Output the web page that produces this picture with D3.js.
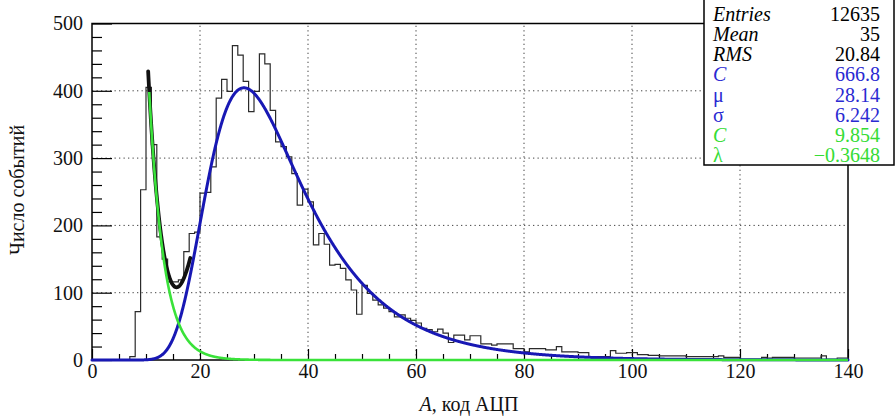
<!DOCTYPE html>
<html>
<head>
<meta charset="utf-8">
<script src="https://cdn.jsdelivr.net/npm/d3@7"></script>
<style>
  body { margin: 0; background: #fff; }
  svg { display: block; }
  text { font-family: "Liberation Serif", "Times New Roman", serif; }
</style>
</head>
<body>
<svg id="chart" width="896" height="416"></svg>
<script>
// Histogram contents: one entry per unit-wide bin, starting at A = 0
const counts = [
  0, 0, 0, 0, 0, 0, 0, 5, 72, 253,
  405, 320, 183, 150, 116, 116, 119, 161, 188, 190,
  248, 249, 287, 389, 417, 399, 467, 453, 414, 369,
  399, 455, 440, 371, 324, 317, 302, 277, 230, 254,
  235, 171, 188, 172, 141, 142, 136, 119, 104, 68,
  111, 99, 89, 82, 77, 72, 64, 67, 62, 59,
  55, 47, 45, 42, 46, 40, 26, 37, 37, 30,
  36, 36, 24, 24, 22, 24, 24, 24, 17, 17,
  12, 17, 17, 17, 15, 15, 20, 12, 12, 12,
  11, 11, 5, 5, 5, 5, 14, 10, 10, 11,
  11, 8, 8, 7, 7, 6, 6, 6, 6, 6,
  5, 5, 5, 5, 5, 5, 6, 4, 4, 4,
  1, 1, 1, 1, 4, 3, 4, 4, 4, 4,
  3, 3, 3, 3, 3, 6, 1, 1, 3, 3
];
const xRange = [0, 140];
const yRange = [0, 500];
const xMajorTicks = [0, 20, 40, 60, 80, 100, 120, 140];
const yMajorTicks = [0, 100, 200, 300, 400, 500];

// Fit results (Moyal-type peak + exponential pedestal)
const peakFit = { C: 666.8, mu: 28.14, sigma: 6.242 };
const expoFit = { C: 9.854, lambda: -0.3648 };
const expoRange = [10.6, 140];
const sumRange = [10.4, 18.2];

// Statistics box rows
const statNames  = ["Entries", "Mean", "RMS", "C", "μ", "σ", "C", "λ"];
const statValues = ["12635", "35", "20.84", "666.8", "28.14", "6.242", "9.854", "\u22120.3648"];
const statGroups = ["h", "h", "h", "p", "p", "p", "e", "e"];
const statItalic = [true, true, true, true, false, false, true, false];

const xTitle = "код АЦП";
const yTitle = "Число событий";

const svg = d3.select("#chart");
const L = 92, R = 848, T = 23.5, B = 360;

const x = d3.scaleLinear().domain(xRange).range([L, R]);
const y = d3.scaleLinear().domain(yRange).range([B, T]);

const colors = { h: "#000", p: "#2a2ad2", e: "#35dc35" };

// dotted grid at major ticks
const grid = svg.append("g").attr("stroke", "#444").attr("stroke-width", 1)
  .attr("stroke-dasharray", "1.3,3.2");
grid.selectAll("line.gx")
  .data(xMajorTicks.filter(v => v > xRange[0] && v < xRange[1]))
  .join("line").attr("x1", d => x(d)).attr("x2", d => x(d))
  .attr("y1", B).attr("y2", T);
grid.selectAll("line.gy")
  .data(yMajorTicks.filter(v => v > yRange[0] && v < yRange[1]))
  .join("line").attr("y1", d => y(d)).attr("y2", d => y(d))
  .attr("x1", L).attr("x2", R);

// frame
svg.append("rect").attr("x", L).attr("y", T).attr("width", R - L).attr("height", B - T)
  .attr("fill", "none").attr("stroke", "#000").attr("stroke-width", 1.5);

// axes with ticks pointing into the frame
const styleAxis = g => {
  g.select(".domain").remove();
  g.selectAll(".tick line").attr("stroke", "#000").attr("stroke-width", 1.2);
  g.selectAll("text").attr("font-size", 20).attr("fill", "#111")
    .style("font-family", '"Liberation Serif", serif');
};
svg.append("g").attr("transform", `translate(0,${B})`)
  .call(d3.axisBottom(x).tickValues(d3.range(0, 141, 5).filter(v => v % 20)).tickSize(-6).tickFormat(""))
  .call(styleAxis);
svg.append("g").attr("transform", `translate(0,${B})`)
  .call(d3.axisBottom(x).tickValues(xMajorTicks).tickSize(-11).tickPadding(4).tickFormat(d3.format("d")))
  .call(styleAxis);
svg.append("g").attr("transform", `translate(${L},0)`)
  .call(d3.axisLeft(y).tickValues(d3.range(0, 501, 20).filter(v => v % 100)).tickSize(-10).tickFormat(""))
  .call(styleAxis);
svg.append("g").attr("transform", `translate(${L},0)`)
  .call(d3.axisLeft(y).tickValues(yMajorTicks).tickSize(-20).tickPadding(9).tickFormat(d3.format("d")))
  .call(styleAxis);

// histogram outline
const pts = [[0, 0]];
counts.forEach((c, i) => { pts.push([i, c]); pts.push([i + 1, c]); });
pts.push([counts.length, 0]);
svg.append("path")
  .attr("d", d3.line().x(d => x(d[0])).y(d => y(d[1]))(pts))
  .attr("fill", "none").attr("stroke", "#2b2b2b").attr("stroke-width", 1.2);

// fit functions
const moyal = v => {
  const l = (v - peakFit.mu) / peakFit.sigma;
  return peakFit.C * Math.exp(-0.5 * (l + Math.exp(-l)));
};
const expo = v => Math.exp(expoFit.C + expoFit.lambda * v);
const sample = (a, b, f) => d3.range(a, b + 1e-9, 0.05).map(v => [v, f(v)]);
const curve = d3.line().x(d => x(d[0])).y(d => y(Math.min(d[1], yRange[1])));

const plotArea = svg.append("g").attr("fill", "none").attr("stroke-linecap", "round");
plotArea.append("path").attr("d", curve(sample(sumRange[0], sumRange[1], v => moyal(v) + expo(v))))
  .attr("stroke", "#111").attr("stroke-width", 3.8);
plotArea.append("path").attr("d", curve(sample(xRange[0], xRange[1], moyal)))
  .attr("stroke", "#1818b4").attr("stroke-width", 3);
plotArea.append("path").attr("d", curve(sample(expoRange[0], expoRange[1], expo)))
  .attr("stroke", "#3ae23a").attr("stroke-width", 2.6).attr("stroke-linecap", "butt");

// axis titles
const xt = svg.append("text").attr("x", 469).attr("y", 411).attr("text-anchor", "middle")
  .attr("font-size", 20).attr("fill", "#111");
xt.append("tspan").attr("font-style", "italic").text("A");
xt.append("tspan").text(", " + xTitle);
svg.append("text").attr("transform", "translate(24,190) rotate(-90)")
  .attr("text-anchor", "middle").attr("font-size", 20).attr("fill", "#111").text(yTitle);

// statistics box
const box = svg.append("g");
box.append("rect").attr("x", 704).attr("y", -1).attr("width", 190).attr("height", 166)
  .attr("fill", "#fff").attr("stroke", "#000").attr("stroke-width", 1.5);
statNames.forEach((n, i) => {
  const by = 21 + i * 20.15;
  box.append("text").attr("x", 713).attr("y", by).attr("font-size", 20)
    .attr("font-style", statItalic[i] ? "italic" : "normal")
    .attr("fill", colors[statGroups[i]]).text(n);
  box.append("text").attr("x", 880).attr("y", by).attr("font-size", 20)
    .attr("text-anchor", "end").attr("fill", colors[statGroups[i]]).text(statValues[i]);
});
</script>
</body>
</html>
